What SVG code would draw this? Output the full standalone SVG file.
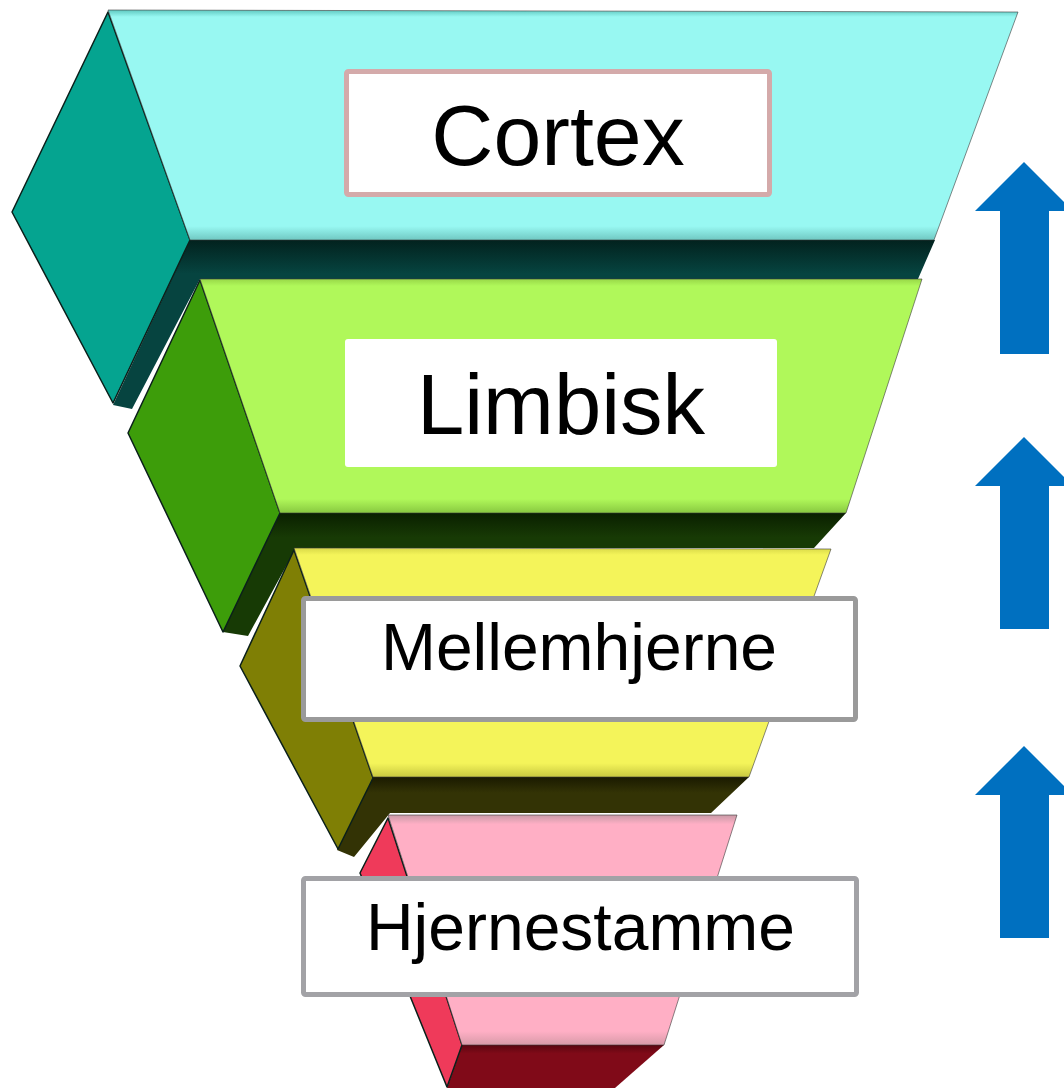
<svg xmlns="http://www.w3.org/2000/svg" width="1064" height="1091" viewBox="0 0 1064 1091">
  <defs>
    <linearGradient id="gCyan" x1="0" y1="0" x2="0" y2="1">
      <stop offset="0" stop-color="#5fc8c0"/>
      <stop offset="0.03" stop-color="#98f8f2"/>
      <stop offset="0.94" stop-color="#98f8f2"/>
      <stop offset="1" stop-color="#70c8c2"/>
    </linearGradient>
    <linearGradient id="gGreen" x1="0" y1="0" x2="0" y2="1">
      <stop offset="0" stop-color="#98d848"/>
      <stop offset="0.03" stop-color="#b0f85a"/>
      <stop offset="0.94" stop-color="#b0f85a"/>
      <stop offset="1" stop-color="#88c840"/>
    </linearGradient>
    <linearGradient id="gYellow" x1="0" y1="0" x2="0" y2="1">
      <stop offset="0" stop-color="#d8d848"/>
      <stop offset="0.03" stop-color="#f4f45a"/>
      <stop offset="0.94" stop-color="#f4f45a"/>
      <stop offset="1" stop-color="#c8c840"/>
    </linearGradient>
    <linearGradient id="gPink" x1="0" y1="0" x2="0" y2="1">
      <stop offset="0" stop-color="#c89aa6"/>
      <stop offset="0.04" stop-color="#ffafc5"/>
      <stop offset="0.94" stop-color="#ffafc5"/>
      <stop offset="1" stop-color="#d89aa8"/>
    </linearGradient>
    <linearGradient id="gDarkTeal" x1="0" y1="0" x2="0" y2="1">
      <stop offset="0" stop-color="#02221e"/>
      <stop offset="0.2" stop-color="#064440"/>
      <stop offset="1" stop-color="#064440"/>
    </linearGradient>
    <linearGradient id="gDarkGreen" x1="0" y1="0" x2="0" y2="1">
      <stop offset="0" stop-color="#0a2000"/>
      <stop offset="0.2" stop-color="#173a05"/>
      <stop offset="1" stop-color="#173a05"/>
    </linearGradient>
    <linearGradient id="gDarkOlive" x1="0" y1="0" x2="0" y2="1">
      <stop offset="0" stop-color="#1a1a00"/>
      <stop offset="0.2" stop-color="#333305"/>
      <stop offset="1" stop-color="#333305"/>
    </linearGradient>
    <linearGradient id="gDarkRed" x1="0" y1="0" x2="0" y2="1">
      <stop offset="0" stop-color="#5a0510"/>
      <stop offset="0.2" stop-color="#800a18"/>
      <stop offset="1" stop-color="#800a18"/>
    </linearGradient>
  </defs>
  <style>
    .side { stroke: #0a1f1a; stroke-width: 1.5; stroke-linejoin: round; }
    .front { stroke: #3a3a3a; stroke-width: 1; stroke-opacity: 0.6; stroke-linejoin: round; }
    .bottom { stroke: none; }
    .lbl { font-family: "Liberation Sans", Arial, sans-serif; fill: #000000; text-anchor: middle; }
    .box { fill: #ffffff; }
    .arrow { fill: #0070c0; }
  </style>
  <rect x="0" y="0" width="1064" height="1091" fill="#ffffff"/>

  <g id="layer-cortex">
    <polygon class="bottom" fill="url(#gDarkTeal)" points="190,240 935,240 918,279 200,279 132,409 113,405"/>
    <polygon class="side" fill="#05a490" points="108,12 12,212 113,403 190,240"/>
    <polygon class="front" fill="url(#gCyan)" points="108,10 1018,12 934,240 190,240"/>
  </g>

  <g id="layer-limbisk">
    <polygon class="bottom" fill="url(#gDarkGreen)" points="280,513 846,513 814,548 296,548 248,636 223,632"/>
    <polygon class="side" fill="#3d9d0a" points="200,280 128,433 223,632 280,513"/>
    <polygon class="front" fill="url(#gGreen)" points="200,279 922,279 846,513 280,513"/>
  </g>

  <g id="layer-mellemhjerne">
    <polygon class="bottom" fill="url(#gDarkOlive)" points="373,777 749,777 711,813 390,813 354,857 337,850"/>
    <polygon class="side" fill="#7f7f05" points="294,550 240,666 338,849 373,778"/>
    <polygon class="front" fill="url(#gYellow)" points="294,548 831,549 749,777 373,777"/>
  </g>

  <g id="layer-hjernestamme">
    <polygon class="bottom" fill="url(#gDarkRed)" points="462,1045 664,1045 615,1088 447,1088"/>
    <polygon class="side" fill="#ef3a5a" points="388,818 360,873 447,1087 462,1045"/>
    <polygon class="front" fill="url(#gPink)" points="388,815 737,815 664,1045 462,1045"/>
  </g>

  <g id="node-cortex">
    <rect class="box" x="346.5" y="71.5" width="423" height="123" rx="2" stroke="#d4aaaa" stroke-width="5"/>
    <text class="lbl" x="558" y="165" font-size="86">Cortex</text>
  </g>

  <g id="node-limbisk">
    <rect class="box" x="345" y="339" width="432" height="128" rx="3"/>
    <text class="lbl" x="561" y="434" font-size="85">Limbisk</text>
  </g>

  <g id="node-mellemhjerne">
    <rect class="box" x="303.5" y="598.5" width="552" height="121" rx="2" stroke="#9a9a9a" stroke-width="5"/>
    <text class="lbl" x="579" y="670" font-size="66">Mellemhjerne</text>
  </g>

  <g id="node-hjernestamme">
    <rect class="box" x="303.5" y="878.5" width="553" height="116" rx="2" stroke="#a2a2a6" stroke-width="5"/>
    <text class="lbl" x="580.5" y="950" font-size="66">Hjernestamme</text>
  </g>

  <g id="connectors">
    <polygon class="arrow" points="1024,162 1073,211 1049,211 1049,354 1000,354 1000,211 975,211"/>
    <polygon class="arrow" points="1024,437 1073,486 1049,486 1049,629 1000,629 1000,486 975,486"/>
    <polygon class="arrow" points="1024,746 1073,795 1049,795 1049,938 1000,938 1000,795 975,795"/>
  </g>
</svg>
